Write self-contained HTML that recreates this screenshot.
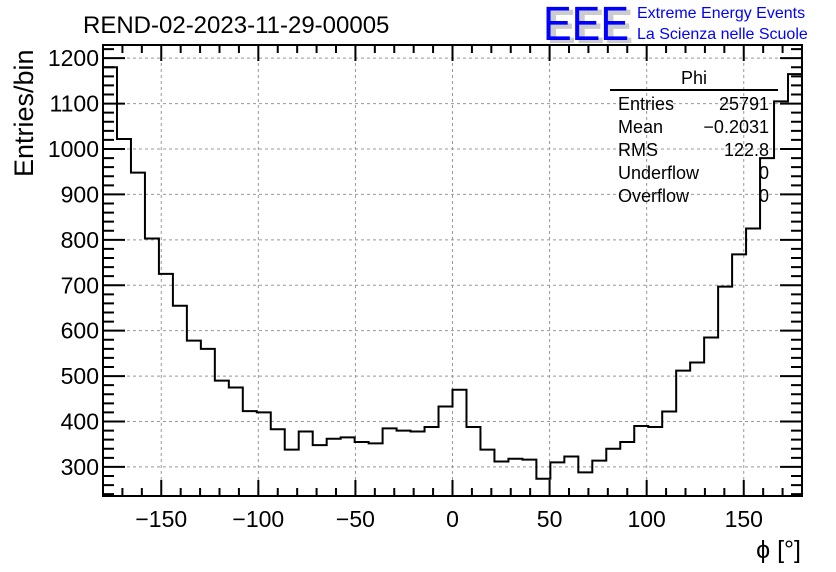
<!DOCTYPE html>
<html><head><meta charset="utf-8"><style>
body{margin:0;background:#fff;}
svg{display:block;font-family:"Liberation Sans",sans-serif;}
</style></head><body>
<svg id="c" width="836" height="572" viewBox="0 0 836 572">
<rect width="836" height="572" fill="#fff"/>
<text x="83" y="33" font-size="24">REND-02-2023-11-29-00005</text>
<g>
<text x="547" y="43" font-size="48" fill="#ccc" font-weight="bold" textLength="86" lengthAdjust="spacingAndGlyphs">EEE</text>
<text x="543" y="40" font-size="48" fill="#0000ff" textLength="86" lengthAdjust="spacingAndGlyphs">EEE</text>
<text x="637" y="18" font-size="16" fill="#0000ff">Extreme Energy Events</text>
<text x="637" y="39" font-size="16" fill="#0000ff">La Scienza nelle Scuole</text>
</g>
<g id="grid"></g>
<g id="ticks"></g>
<path id="hist" fill="none" stroke="#000" stroke-width="2"/>
<rect x="103" y="45" width="699" height="451" fill="none" stroke="#000" stroke-width="2"/>
<g id="labels"></g>
<text x="36" y="180" font-size="27" transform="rotate(-90 33 180)">Entries/bin</text>
<text x="801" y="558" font-size="25" text-anchor="end">ϕ [°]</text>
<g font-size="18">
<text x="694" y="84" text-anchor="middle">Phi</text>
<line x1="610" y1="90" x2="778" y2="90" stroke="#000" stroke-width="2"/>
<text x="618" y="110">Entries</text><text x="769" y="110" text-anchor="end">25791</text>
<text x="618" y="133">Mean</text><text x="769" y="133" text-anchor="end">−0.2031</text>
<text x="618" y="156">RMS</text><text x="769" y="156" text-anchor="end">122.8</text>
<text x="618" y="179">Underflow</text><text x="769" y="179" text-anchor="end">0</text>
<text x="618" y="202">Overflow</text><text x="769" y="202" text-anchor="end">0</text>
</g>
</svg>
<script>
const counts=[1180,1022,948,803,725,655,578,560,490,475,423,420,383,338,378,348,362,365,355,352,385,380,378,388,433,470,388,338,312,318,316,274,310,323,288,314,340,355,390,388,422,512,530,585,697,768,825,980,1105,1165];
const xTicks=[-150,-100,-50,0,50,100,150];
const yTicks=[300,400,500,600,700,800,900,1000,1100,1200];
const xMin=-180,xMax=180,yMin=236,yMax=1229;
const L=103,R=802,T=45,B=496;
const sx=v=>L+(v-xMin)/(xMax-xMin)*(R-L);
const sy=v=>B-(v-yMin)/(yMax-yMin)*(B-T);
const ns="http://www.w3.org/2000/svg";
function mk(t,a,p){const e=document.createElementNS(ns,t);for(const k in a)e.setAttribute(k,a[k]);document.getElementById(p).appendChild(e);return e;}
xTicks.forEach(v=>{const g=mk('line',{x1:sx(v),x2:sx(v),y1:T,y2:B,stroke:'#999','stroke-dasharray':'3,3'},'grid');


const t=mk('text',{x:sx(v),y:527,'font-size':23,'text-anchor':'middle'},'labels');t.textContent=v<0?'−'+(-v):v;

});
yTicks.forEach(v=>{const g=mk('line',{x1:L,x2:R,y1:sy(v),y2:sy(v),stroke:'#999','stroke-dasharray':'3,3'},'grid');


const t=mk('text',{x:99,y:sy(v)+8,'font-size':23,'text-anchor':'end'},'labels');t.textContent=v;

});
let d='';
for(let v=-180;v<=180;v+=10){const m=v%50===0;const h=m?16:8;d+=`M${sx(v)},${B}v${-h}M${sx(v)},${T}v${h}`;}
for(let v=240;v<=1220;v+=20){const m=v%100===0;const w=m?22:11;d+=`M${L},${sy(v)}h${w}M${R},${sy(v)}h${-w}`;}
const tk=mk('path',{d:d,stroke:'#000','stroke-width':2,fill:'none'},'ticks');


const bw=(xMax-xMin)/counts.length;
let p='';counts.forEach((c,i)=>{const x0=sx(xMin+i*bw),x1=sx(xMin+(i+1)*bw),y=sy(c);p+=(i===0?`M${x0},${y}`:`V${y}`)+`H${x1}`;});
document.getElementById('hist').setAttribute('d',p);
</script>
</body></html>
